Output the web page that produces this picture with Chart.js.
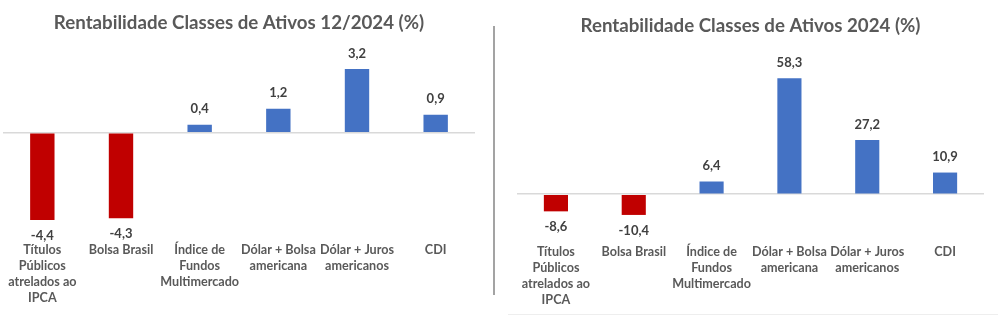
<!DOCTYPE html>
<html>
<head>
<meta charset="utf-8">
<script src="https://cdn.jsdelivr.net/npm/chart.js@4.4.1/dist/chart.umd.min.js"></script>
<style>
  html, body { margin:0; padding:0; background:#ffffff; }
  body { width:998px; height:321px; position:relative; overflow:hidden; }
  .box { position:absolute; top:0; height:321px; }
  #sep { position:absolute; left:493px; top:26px; width:2px; height:269px; background:#a3a3a3; }
  #bline { position:absolute; left:508px; top:314px; width:490px; height:1px; background:#eeeeee; }
</style>
</head>
<body>
<div class="box" style="left:0;width:494px;"><canvas id="c1" width="494" height="321"></canvas></div>
<div id="sep"></div>
<div class="box" style="left:500px;width:498px;"><canvas id="c2" width="498" height="321"></canvas></div>
<div id="bline"></div>
<script>
const categories = [
  ['Títulos', 'Públicos', 'atrelados ao', 'IPCA'],
  'Bolsa Brasil',
  ['Índice de', 'Fundos', 'Multimercado'],
  ['Dólar + Bolsa', 'americana'],
  ['Dólar + Juros', 'americanos'],
  'CDI'
];
const valuesDec2024 = [-4.4, -4.3, 0.4, 1.2, 3.2, 0.9];
const valuesYear2024 = [-8.6, -10.4, 6.4, 58.3, 27.2, 10.9];
const titleDec = 'Rentabilidade Classes de Ativos 12/2024 (%)';
const titleYear = 'Rentabilidade Classes de Ativos 2024 (%)';

const RED = '#C00000', BLUE = '#4472C4';

const valueLabels = {
  id: 'valueLabels',
  afterDatasetsDraw(chart) {
    const ctx = chart.ctx;
    const meta = chart.getDatasetMeta(0);
    const data = chart.data.datasets[0].data;
    ctx.save();
    ctx.font = 'bold 13px Lato';
    ctx.fillStyle = '#404040';
    ctx.textAlign = 'center';
    ctx.textBaseline = 'middle';
    meta.data.forEach((bar, i) => {
      const v = data[i];
      const txt = v.toFixed(1).replace('.', ',');
      const y = v >= 0 ? bar.y - 15.5 : bar.y + 15.5;
      ctx.fillText(txt, bar.x, y);
    });
    ctx.restore();
  }
};

function makeChart(id, values, title, yMin, yMax, pad, titlePad) {
  return new Chart(document.getElementById(id), {
    type: 'bar',
    data: {
      labels: categories,
      datasets: [{
        data: values,
        backgroundColor: values.map(v => v < 0 ? RED : BLUE),
        barPercentage: 0.31,
        categoryPercentage: 1.0
      }]
    },
    options: {
      responsive: false,
      animation: false,
      layout: { padding: pad },
      plugins: {
        legend: { display: false },
        tooltip: { enabled: false },
        title: {
          display: true,
          text: title,
          color: '#595959',
          font: { family: 'Lato', size: 18.7, weight: 'bold', lineHeight: '22.4px' },
          padding: titlePad
        }
      },
      scales: {
        x: {
          grid: { display: false, drawTicks: false },
          border: { display: false },
          ticks: {
            color: '#595959',
            font: { family: 'Lato', size: 12.6, weight: 'bold', lineHeight: '16px' },
            padding: 2,
            maxRotation: 0,
            autoSkip: false
          }
        },
        y: {
          min: yMin,
          max: yMax,
          grid: {
            drawTicks: false,
            color: c => (c.tick && c.tick.value === 0) ? '#d9d9d9' : 'rgba(0,0,0,0)',
            lineWidth: 1.5
          },
          border: { display: false },
          ticks: { display: false, stepSize: yMax > 20 ? 1 : 0.1 }
        }
      }
    },
    plugins: [valueLabels]
  });
}

makeChart('c1', valuesDec2024, titleDec, -5.4, 4.6,
  { left: 3, right: 19, top: 0, bottom: 13 }, { top: 11.8, bottom: 7 });
makeChart('c2', valuesYear2024, titleYear, -24, 77,
  { left: 17, right: 14, top: 0, bottom: 11 }, { top: 14.5, bottom: 4.1 });
</script>
</body>
</html>
